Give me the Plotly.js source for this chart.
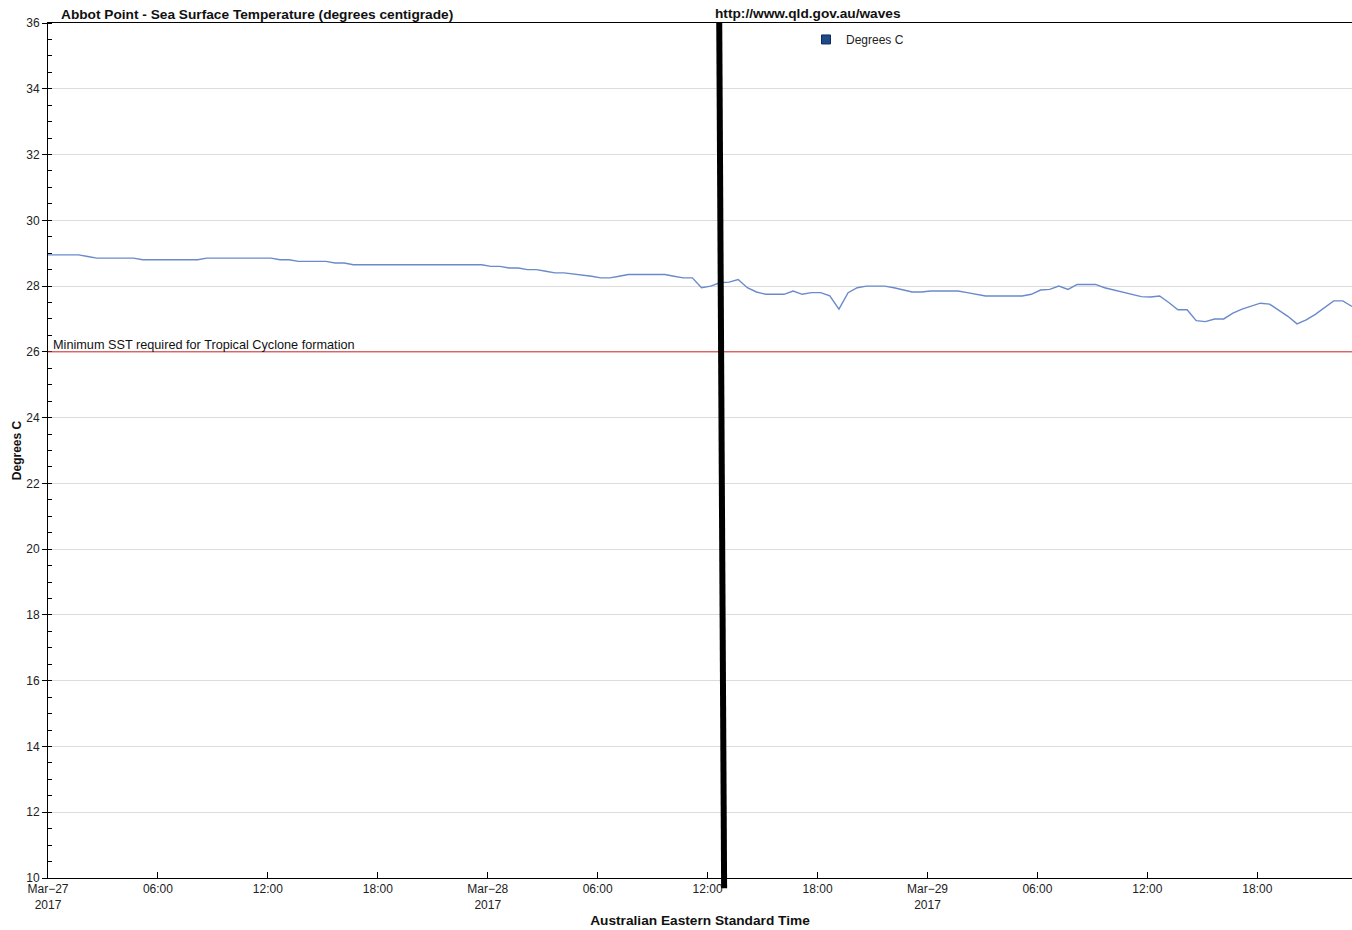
<!DOCTYPE html>
<html>
<head>
<meta charset="utf-8">
<script src="https://cdn.plot.ly/plotly-3.0.1.min.js"></script>
<style>
  html, body { margin: 0; padding: 0; background: #ffffff; }
  #chart { width: 1352px; height: 930px; }
</style>
</head>
<body>
<div id="chart"></div>
<script>
// ---- data ----
// Samples every 30 minutes, first sample at 2017-03-26 23:40 (AEST)
const firstSampleUTC = Date.UTC(2017, 2, 26, 23, 40);
const sampleStepMinutes = 30;

// Sea surface temperature, degrees C
const sstMar27 = [28.95, 28.95, 28.95, 28.95, 28.95, 28.90,
  28.85, 28.85, 28.85, 28.85, 28.85,
  28.80, 28.80, 28.80, 28.80, 28.80, 28.80, 28.80,
  28.85, 28.85, 28.85, 28.85, 28.85, 28.85, 28.85, 28.85,
  28.80, 28.80, 28.75, 28.75, 28.75, 28.75, 28.70, 28.70,
  28.65, 28.65, 28.65, 28.65, 28.65, 28.65, 28.65, 28.65,
  28.65, 28.65, 28.65, 28.65, 28.65, 28.65, 28.65];
const sstMar28 = [28.60, 28.60, 28.55, 28.55, 28.50, 28.50, 28.45, 28.40,
  28.40, 28.37, 28.35, 28.30, 28.25, 28.25, 28.30, 28.35, 28.35, 28.35,
  28.35, 28.35, 28.30, 28.25, 28.25, 27.95, 28.00, 28.10, 28.12, 28.20,
  27.95, 27.82, 27.75, 27.75, 27.75, 27.85, 27.75, 27.80, 27.80, 27.70,
  27.30, 27.80, 27.95, 28.00, 28.00, 28.00, 27.95, 27.88, 27.82, 27.82];
const sstMar29 = [27.85, 27.85, 27.85, 27.85, 27.80, 27.75, 27.70, 27.70,
  27.70, 27.70, 27.70, 27.75, 27.88, 27.90, 28.00, 27.90, 28.05, 28.05,
  28.05, 27.95, 27.88, 27.82, 27.75, 27.68, 27.67, 27.70, 27.50, 27.28,
  27.28, 26.95, 26.92, 27.00, 27.00, 27.18, 27.30, 27.38, 27.48, 27.45,
  27.27, 27.08, 26.85, 26.97, 27.14, 27.35, 27.55, 27.55, 27.38];

const cycloneThreshold = 26;          // minimum SST for tropical cyclone formation
const markerTime = '2017-03-28 12:38'; // hand-drawn vertical marker (top)
const markerTimeBottom = '2017-03-28 12:54';

const xTickVals = ['2017-03-27 00:00', '2017-03-27 06:00', '2017-03-27 12:00', '2017-03-27 18:00',
  '2017-03-28 00:00', '2017-03-28 06:00', '2017-03-28 12:00', '2017-03-28 18:00',
  '2017-03-29 00:00', '2017-03-29 06:00', '2017-03-29 12:00', '2017-03-29 18:00'];
const xTickText = ['Mar\u221227<br>2017', '06:00', '12:00', '18:00',
  'Mar\u221228<br>2017', '06:00', '12:00', '18:00',
  'Mar\u221229<br>2017', '06:00', '12:00', '18:00'];
const xRange = ['2017-03-27 00:00', '2017-03-29 23:10'];
const yRange = [10, 36];

// ---- build ----
const sst = sstMar27.concat(sstMar28, sstMar29);
function fmt(ms) {
  return new Date(ms).toISOString().slice(0, 16).replace('T', ' ');
}
const times = sst.map((_, i) => fmt(firstSampleUTC + i * sampleStepMinutes * 60000));

const FONT = 'Liberation Sans, Arial, sans-serif';

const traces = [
  {
    x: times, y: sst, type: 'scatter', mode: 'lines',
    line: { color: '#6a8acb', width: 1.4 },
    showlegend: false, hoverinfo: 'x+y'
  },
  {
    x: [null], y: [null], type: 'scatter', mode: 'markers', name: 'Degrees C',
    marker: { symbol: 'square', size: 9, color: '#1f4a8a', line: { color: '#0f2a55', width: 1 } },
    showlegend: true
  }
];

const layout = {
  width: 1352, height: 930,
  margin: { l: 48, r: 0, t: 23, b: 52, pad: 0 },
  paper_bgcolor: '#ffffff', plot_bgcolor: '#ffffff',
  font: { family: FONT, size: 12, color: '#222' },
  title: {
    text: 'Abbot Point - Sea Surface Temperature (degrees centigrade)',
    font: { family: FONT, size: 13.7, color: '#111', weight: 'bold' },
    xref: 'container', x: 61 / 1352, xanchor: 'left',
    yref: 'container', y: 1 - 14 / 930, yanchor: 'middle'
  },
  xaxis: {
    type: 'date', range: xRange,
    tickmode: 'array', tickvals: xTickVals, ticktext: xTickText,
    ticks: 'inside', ticklen: 6, tickcolor: '#000', tickwidth: 1,
    showline: true, linecolor: '#000', linewidth: 1, mirror: true,
    showgrid: false, zeroline: false,
    tickfont: { family: FONT, size: 12, color: '#222' },
    title: {
      text: 'Australian Eastern Standard Time',
      font: { family: FONT, size: 13.7, color: '#111', weight: 'bold' },
      standoff: 4
    }
  },
  yaxis: {
    range: yRange, tick0: 10, dtick: 2,
    ticks: 'outside', ticklen: 5, tickcolor: '#000', tickwidth: 1,
    showline: true, linecolor: '#000', linewidth: 1,
    showgrid: true, gridcolor: '#dcdcdc', gridwidth: 1, zeroline: false,
    minor: { dtick: 0.5, ticks: 'inside', ticklen: 4, tickcolor: '#000', showgrid: false },
    tickfont: { family: FONT, size: 12, color: '#222' },
    title: {
      text: 'Degrees C',
      font: { family: FONT, size: 12, color: '#111', weight: 'bold' },
      standoff: 2
    }
  },
  legend: {
    x: 0.5813, xanchor: 'left', y: 0.9977, yanchor: 'top',
    bgcolor: 'rgba(0,0,0,0)', borderwidth: 0,
    font: { family: FONT, size: 12, color: '#222' },
    itemwidth: 30
  },
  shapes: [
    {
      type: 'line', xref: 'paper', yref: 'y',
      x0: 0, x1: 1, y0: cycloneThreshold, y1: cycloneThreshold,
      line: { color: '#d42a2a', width: 1 }, layer: 'above'
    },
    {
      type: 'line', xref: 'x', yref: 'paper',
      x0: markerTime, x1: markerTimeBottom, y0: 1, y1: -0.012,
      line: { color: '#000', width: 6 }, layer: 'above'
    }
  ],
  annotations: [
    {
      text: 'Minimum SST required for Tropical Cyclone formation',
      xref: 'paper', x: 0, xanchor: 'left', xshift: 3,
      yref: 'y', y: cycloneThreshold, yanchor: 'bottom', yshift: -2,
      showarrow: false, font: { family: FONT, size: 12.7, color: '#111' }
    },
    {
      text: 'http://www.qld.gov.au/waves',
      xref: 'paper', x: (713 - 48) / 1304, xanchor: 'left',
      yref: 'paper', y: 1 + 9 / 855, yanchor: 'middle',
      showarrow: false, font: { family: FONT, size: 13.7, color: '#111', weight: 'bold' }
    }
  ]
};

Plotly.newPlot('chart', traces, layout, { displayModeBar: false, staticPlot: true });
</script>
</body>
</html>
